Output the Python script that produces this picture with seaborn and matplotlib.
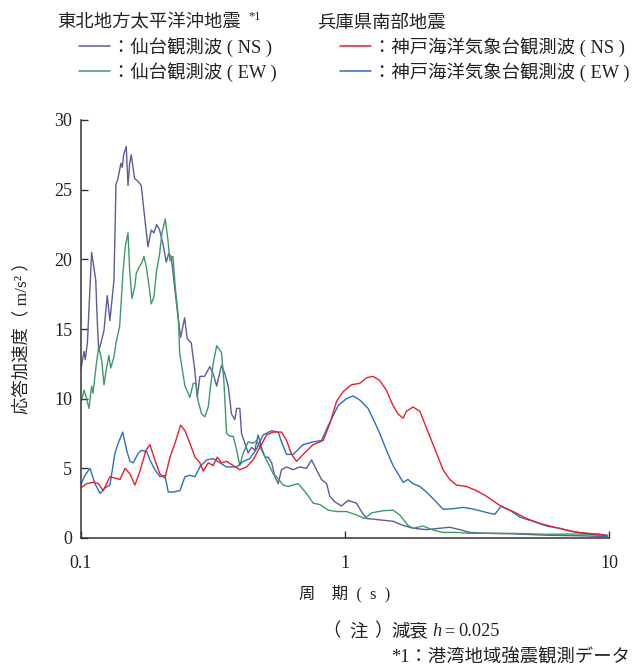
import pandas as pd
import matplotlib
matplotlib.use("Agg")
import matplotlib.pyplot as plt
import matplotlib.ticker as ticker
from matplotlib.lines import Line2D
import seaborn as sns

# =========================
# DATOS
# =========================

# 東北地方太平洋沖地震 - 仙台観測波 (NS)
sendai_ns_T = [0.100, 0.103, 0.104, 0.106, 0.110, 0.114, 0.1155, 0.117, 0.120, 0.1225,
               0.126, 0.129, 0.1336, 0.136, 0.138, 0.142, 0.1436, 0.1454, 0.1487, 0.151,
               0.1532, 0.1553, 0.160, 0.1647, 0.1695, 0.1746, 0.1797, 0.1849, 0.1893, 0.1938,
               0.1989, 0.2048, 0.2107, 0.2151, 0.220, 0.2267, 0.2333, 0.2388, 0.2473, 0.253,
               0.262, 0.270, 0.276, 0.2825, 0.2943, 0.308, 0.317, 0.327, 0.341, 0.351,
               0.3615, 0.372, 0.383, 0.389, 0.400, 0.406, 0.418, 0.430, 0.443, 0.456,
               0.469, 0.483, 0.498, 0.512, 0.528, 0.543, 0.559, 0.575, 0.601, 0.6365,
               0.675, 0.715, 0.747, 0.780, 0.815, 0.852, 0.876, 0.915, 0.970, 1.028,
               1.105, 1.154, 1.206, 1.354, 1.520, 1.659, 1.809, 2.033, 2.283, 2.490,
               2.717, 2.965, 3.428, 4.311, 5.781, 7.726, 9.856]
sendai_ns_a = [12.05, 13.4, 12.8, 14.0, 20.5, 18.5, 15.6, 13.4, 14.2, 14.9,
               17.4, 15.6, 18.5, 25.4, 25.7, 26.9, 26.6, 27.5, 28.1, 25.3,
               26.9, 27.5, 25.8, 25.6, 25.3, 23.0, 20.9, 22.1, 21.9, 22.5,
               22.1, 21.1, 19.8, 20.4, 20.2, 18.0, 15.9, 14.4, 15.8, 14.3,
               14.0, 12.1, 10.1, 11.6, 11.6, 12.3, 11.8, 10.9, 12.4, 11.8,
               10.9, 8.9, 8.5, 9.3, 9.3, 7.5, 6.8, 6.1, 6.5, 6.3,
               7.4, 6.5, 5.8, 5.8, 5.4, 4.4, 3.9, 4.9, 5.1, 4.9,
               5.1, 5.0, 5.6, 4.9, 4.2, 3.9, 3.0, 2.6, 2.3, 2.7,
               2.5, 1.9, 1.4, 1.3, 1.2, 0.9, 0.7, 0.6, 0.7, 0.77,
               0.6, 0.4, 0.34, 0.3, 0.2, 0.16, 0.1]

# 東北地方太平洋沖地震 - 仙台観測波 (EW)
sendai_ew_T = [0.100, 0.103, 0.105, 0.1075, 0.110, 0.1113, 0.1146, 0.117, 0.120, 0.1225,
               0.125, 0.1279, 0.1299, 0.1336, 0.136, 0.1404, 0.1445, 0.1474, 0.151, 0.1532,
               0.1563, 0.160, 0.1623, 0.1672, 0.1706, 0.1735, 0.177, 0.1807, 0.1849, 0.1893,
               0.1931, 0.1989, 0.203, 0.2089, 0.2138, 0.2176, 0.2234, 0.2279, 0.234, 0.2368,
               0.248, 0.259, 0.2666, 0.273, 0.2776, 0.2867, 0.295, 0.3037, 0.317, 0.327,
               0.341, 0.348, 0.3565, 0.367, 0.3776, 0.389, 0.400, 0.412, 0.430, 0.449,
               0.463, 0.483, 0.505, 0.520, 0.535, 0.551, 0.583, 0.6095, 0.665, 0.715,
               0.758, 0.803, 0.8635, 0.929, 1.013, 1.089, 1.188, 1.260, 1.394, 1.520,
               1.612, 1.732, 1.809, 1.974, 2.154, 2.350, 2.641, 2.965, 4.311, 5.781,
               7.726, 9.856]
sendai_ew_a = [9.7, 10.6, 10.1, 9.3, 10.9, 10.4, 12.5, 13.7, 12.8, 11.0,
               12.1, 13.1, 12.2, 13.0, 14.0, 15.2, 19.0, 20.9, 21.9, 19.2,
               17.2, 18.0, 19.0, 19.5, 19.8, 20.2, 19.5, 18.3, 16.8, 17.3,
               19.0, 20.4, 21.9, 22.9, 21.4, 19.9, 20.2, 18.0, 15.9, 13.3,
               10.9, 10.1, 11.1, 11.1, 9.9, 8.9, 8.7, 9.4, 12.5, 13.8,
               13.3, 11.3, 7.5, 7.3, 7.3, 6.3, 5.2, 6.1, 6.9, 6.8,
               7.0, 6.3, 5.6, 5.1, 4.6, 4.4, 3.8, 3.7, 3.9, 3.2,
               2.5, 2.4, 2.0, 1.9, 1.9, 1.7, 1.4, 1.8, 1.96, 2.0,
               1.65, 0.9, 0.7, 0.86, 0.57, 0.4, 0.4, 0.34, 0.33, 0.27,
               0.29, 0.16]

# 兵庫県南部地震 - 神戸海洋気象台観測波 (NS)
kobe_ns_T = [0.100, 0.1054, 0.1116, 0.1166, 0.1217, 0.129, 0.1348, 0.1408, 0.1471, 0.1536,
             0.1604, 0.1676, 0.1766, 0.1828, 0.1909, 0.1994, 0.2083, 0.2176, 0.2273, 0.2388,
             0.248, 0.259, 0.2705, 0.2825, 0.291, 0.3037, 0.317, 0.3285, 0.341, 0.3565,
             0.3776, 0.400, 0.424, 0.449, 0.476, 0.505, 0.535, 0.575, 0.601, 0.628,
             0.656, 0.694, 0.758, 0.8265, 0.876, 0.929, 0.984, 1.058, 1.138, 1.206,
             1.277, 1.354, 1.435, 1.520, 1.588, 1.659, 1.708, 1.809, 1.918, 2.004,
             2.093, 2.218, 2.350, 2.490, 2.641, 2.880, 3.143, 3.428, 3.741, 3.962,
             4.323, 4.857, 5.452, 6.122, 6.880, 7.726, 8.674, 9.603]
kobe_ns_a = [3.6, 3.9, 4.0, 3.9, 3.4, 4.4, 4.3, 4.2, 5.0, 4.6,
             3.8, 4.8, 6.3, 6.7, 5.6, 4.6, 4.3, 5.8, 6.8, 8.1,
             7.7, 6.8, 5.8, 5.4, 4.8, 5.4, 5.2, 5.8, 5.4, 5.5,
             5.2, 4.9, 5.1, 5.6, 6.5, 7.4, 7.6, 7.6, 7.0, 6.0,
             5.5, 6.0, 6.7, 7.0, 8.2, 9.8, 10.5, 11.0, 11.1, 11.5,
             11.6, 11.3, 10.6, 9.5, 8.9, 8.6, 9.1, 9.4, 9.1, 8.2,
             7.3, 6.1, 4.9, 4.2, 3.8, 3.7, 3.4, 3.0, 2.5, 2.2,
             1.9, 1.4, 1.05, 0.8, 0.57, 0.38, 0.29, 0.2]

# 兵庫県南部地震 - 神戸海洋気象台観測波 (EW)
kobe_ew_T = [0.100, 0.1038, 0.1084, 0.1133, 0.1183, 0.1236, 0.129, 0.1348, 0.1387, 0.1441,
             0.1492, 0.1536, 0.1581, 0.1652, 0.170, 0.1777, 0.1828, 0.1909, 0.1994, 0.2083,
             0.2144, 0.2239, 0.2374, 0.248, 0.259, 0.2705, 0.2825, 0.2995, 0.317, 0.336,
             0.3565, 0.389, 0.412, 0.4367, 0.463, 0.490, 0.528, 0.559, 0.575, 0.601,
             0.6365, 0.694, 0.758, 0.815, 0.876, 0.942, 1.013, 1.073, 1.138, 1.223,
             1.296, 1.354, 1.435, 1.520, 1.588, 1.659, 1.732, 1.809, 1.918, 2.033,
             2.186, 2.350, 2.563, 2.797, 3.008, 3.234, 3.476, 3.686, 3.907, 4.201,
             4.581, 5.144, 5.781, 6.490, 7.287, 8.189, 9.194, 9.856]
kobe_ew_a = [3.8, 4.5, 5.0, 3.9, 3.2, 3.6, 3.8, 6.1, 6.8, 7.6,
             6.3, 5.5, 5.4, 6.1, 6.3, 6.2, 5.6, 4.9, 4.4, 4.5,
             3.3, 3.3, 3.4, 4.4, 4.5, 4.4, 5.1, 5.6, 5.7, 5.4,
             5.1, 5.1, 5.5, 5.7, 6.4, 7.4, 7.7, 7.6, 6.9, 6.0,
             6.0, 6.7, 6.9, 7.0, 8.3, 9.5, 10.0, 10.2, 9.9, 9.3,
             8.3, 7.5, 6.3, 5.2, 4.6, 4.0, 4.2, 3.9, 3.7, 3.3,
             2.7, 2.06, 2.1, 2.2, 2.1, 1.96, 1.8, 1.7, 2.3, 2.0,
             1.5, 1.2, 0.86, 0.7, 0.45, 0.34, 0.27, 0.2]

series_names = ["仙台観測波 (NS)", "仙台観測波 (EW)", "神戸海洋気象台観測波 (EW)", "神戸海洋気象台観測波 (NS)"]
series_T = [sendai_ns_T, sendai_ew_T, kobe_ew_T, kobe_ns_T]
series_a = [sendai_ns_a, sendai_ew_a, kobe_ew_a, kobe_ns_a]

colores = {
    "仙台観測波 (NS)": "#5c5c9c",
    "仙台観測波 (EW)": "#3d9a68",
    "神戸海洋気象台観測波 (NS)": "#ea1f2a",
    "神戸海洋気象台観測波 (EW)": "#2c6fc2",
}

df = pd.concat(
    [pd.DataFrame({"周期": t, "応答加速度": a, "波形": n}) for n, t, a in zip(series_names, series_T, series_a)],
    ignore_index=True,
)

# =========================
# ESTILO
# =========================

sns.set_theme(style="ticks")
FONT = ["Liberation Serif", "Noto Sans CJK JP", "DejaVu Sans"]
plt.rcParams["font.family"] = FONT
TXT = "#222222"
FS = 13.2

W, H = 636, 669
fig = plt.figure(figsize=(W / 100, H / 100), dpi=100)
ax = fig.add_axes([80.7 / W, 1 - 538 / H, (609.3 - 80.7) / W, (538 - 120) / H])

sns.lineplot(data=df, x="周期", y="応答加速度", hue="波形", hue_order=series_names,
             palette=colores, estimator=None, sort=False, legend=False,
             linewidth=1.0, ax=ax)

ax.set_xscale("log")
ax.set_xlim(0.1, 10)
ax.set_ylim(0, 30)
ax.set_xticks([0.1, 1, 10], labels=["0.1", "1", "10"])
ax.xaxis.set_minor_locator(ticker.NullLocator())
ax.set_yticks([0, 5, 10, 15, 20, 25, 30])
ax.set_xlabel("")
ax.set_ylabel("")
for s in ["top", "right"]:
    ax.spines[s].set_visible(False)
for s in ["left", "bottom"]:
    ax.spines[s].set_color("#333333")
    ax.spines[s].set_linewidth(1.1)
ax.tick_params(axis="both", direction="in", length=5, width=1.0, color="#333333",
               labelsize=13, labelcolor=TXT)
ax.tick_params(axis="x", pad=12)
ax.tick_params(axis="y", pad=6)


def px(x, y):
    return x / W, 1 - y / H


# Ejes: etiquetas
fig.text(*px(22, 334), "応答加速度（ m/s² ）", rotation=90, ha="center", va="center",
         fontsize=12.5, color=TXT)
fig.text(*px(299, 594), "周　期  (  s  )", ha="left", va="center", fontsize=11.8, color=TXT)

# =========================
# LEYENDA
# =========================

fig.text(*px(57, 23), "東北地方太平洋沖地震", ha="left", va="center", fontsize=FS, color=TXT)
fig.text(*px(248, 17), "*1", ha="left", va="center", fontsize=9, color=TXT)
fig.text(*px(317, 23), "兵庫県南部地震", ha="left", va="center", fontsize=FS, color=TXT)

entradas = [
    (79, 46, "仙台観測波 (NS)", "：仙台観測波 ( NS )"),
    (79, 71, "仙台観測波 (EW)", "：仙台観測波 ( EW )"),
    (340, 46, "神戸海洋気象台観測波 (NS)", "：神戸海洋気象台観測波 ( NS )"),
    (340, 71, "神戸海洋気象台観測波 (EW)", "：神戸海洋気象台観測波 ( EW )"),
]
for x0, y0, clave, texto in entradas:
    (fx0, fy0), (fx1, _) = px(x0, y0), px(x0 + 31, y0)
    fig.add_artist(Line2D([fx0, fx1], [fy0, fy0], transform=fig.transFigure,
                          color=colores[clave], linewidth=1.1))
    fig.text(*px(x0 + 33, y0 + 1), texto, ha="left", va="center", fontsize=FS, color=TXT)

# Notas
for x, t in [(322, "（"), (349, "注"), (374, "）"), (391, "減衰")]:
    fig.text(*px(x, 632), t, ha="left", va="center", fontsize=FS, color=TXT)
fig.text(*px(432, 632), "h", ha="left", va="center", fontsize=FS, style="italic", color=TXT)
fig.text(*px(444, 632), "=", ha="left", va="center", fontsize=FS, color=TXT)
fig.text(*px(458, 632), "0.025", ha="left", va="center", fontsize=FS, color=TXT)
fig.text(*px(391, 657), "*1：港湾地域強震観測データ", ha="left", va="center", fontsize=FS, color=TXT)

fig.savefig("out.png", dpi=100)
